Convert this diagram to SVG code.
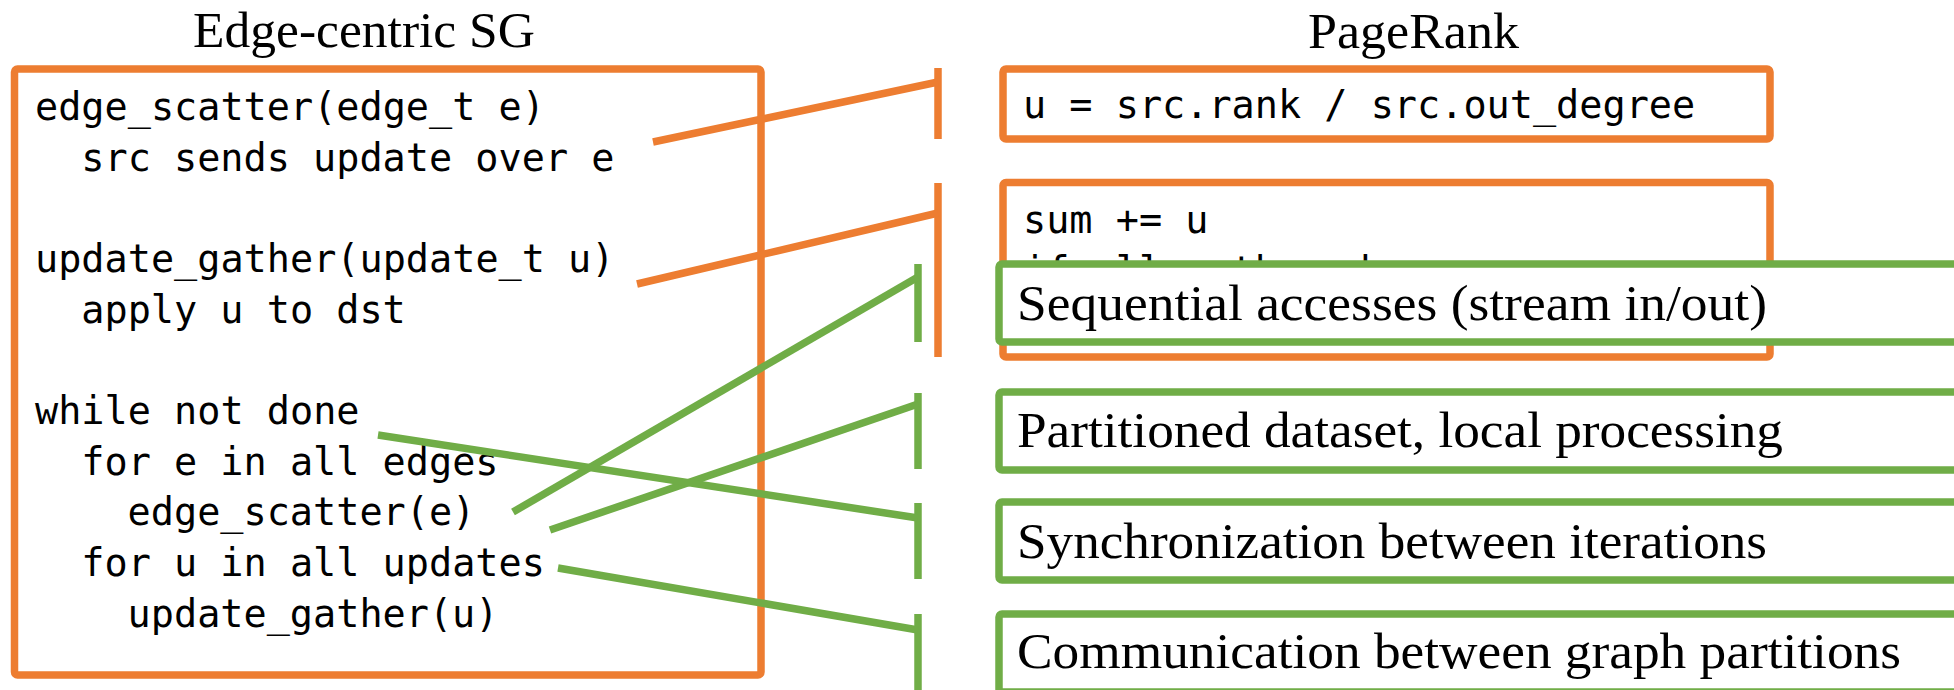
<svg xmlns="http://www.w3.org/2000/svg" width="1954" height="690" viewBox="0 0 1954 690">
<style>
.bg{fill:#ffffff}
.ob{fill:#ffffff;stroke:#ED7D31;stroke-width:7.5}
.gb{fill:#ffffff;stroke:#70AD47;stroke-width:7.5}
.oc{stroke:#ED7D31;stroke-width:7.5;fill:none}
.gc{stroke:#70AD47;stroke-width:7.5;fill:none}
.code{font-family:"DejaVu Sans Mono","Liberation Mono",monospace;font-size:38.5px;fill:#000}
.title{font-family:"Liberation Serif","Times New Roman",serif;font-size:50px;fill:#000}
.lbl{font-family:"Liberation Serif","Times New Roman",serif;font-size:50px;fill:#000}
</style>
<defs>
<clipPath id="gatherClip"><rect x="1003" y="182" width="767" height="80"/></clipPath>
</defs>
<rect class="bg" x="0" y="0" width="1954" height="690"/>
<g id="title-left"><text class="title" x="193" y="47" textLength="342" lengthAdjust="spacingAndGlyphs">Edge-centric SG</text></g>
<g id="title-right"><text class="title" x="1308" y="48" textLength="211" lengthAdjust="spacingAndGlyphs">PageRank</text></g>
<g id="left-box">
<rect class="ob" x="14.5" y="69" width="746.5" height="606" rx="3"/>
<text class="code" x="35" y="120">edge_scatter(edge_t e)</text>
<text class="code" x="81.3" y="170.7">src sends update over e</text>
<text class="code" x="35" y="272">update_gather(update_t u)</text>
<text class="code" x="81.3" y="322.7">apply u to dst</text>
<text class="code" x="35" y="424">while not done</text>
<text class="code" x="81.3" y="474.7">for e in all edges</text>
<text class="code" x="127.6" y="525.4">edge_scatter(e)</text>
<text class="code" x="81.3" y="576.1">for u in all updates</text>
<text class="code" x="127.6" y="626.8">update_gather(u)</text>
</g>
<g id="scatter-box">
<rect class="ob" x="1003" y="69" width="767" height="70" rx="3"/>
<text class="code" x="1023" y="118">u = src.rank / src.out_degree</text>
</g>
<g id="gather-box">
<rect class="ob" x="1003" y="182.5" width="767" height="174.5" rx="3"/>
<text class="code" x="1023" y="233">sum += u</text>
<text class="code" x="1023" y="284" clip-path="url(#gatherClip)">if all gathered</text>
</g>
<g id="seq-box">
<rect class="gb" x="999" y="264" width="1000" height="78" rx="3"/>
<text class="lbl" x="1017" y="320" textLength="750" lengthAdjust="spacingAndGlyphs">Sequential accesses (stream in/out)</text>
</g>
<g id="part-box">
<rect class="gb" x="999" y="392" width="1000" height="78" rx="3"/>
<text class="lbl" x="1017" y="447" textLength="766" lengthAdjust="spacingAndGlyphs">Partitioned dataset, local processing</text>
</g>
<g id="sync-box">
<rect class="gb" x="999" y="502" width="1000" height="78" rx="3"/>
<text class="lbl" x="1017" y="558" textLength="750" lengthAdjust="spacingAndGlyphs">Synchronization between iterations</text>
</g>
<g id="comm-box">
<rect class="gb" x="999" y="614" width="1000" height="78" rx="3"/>
<text class="lbl" x="1017" y="668" textLength="884" lengthAdjust="spacingAndGlyphs">Communication between graph partitions</text>
</g>
<g id="connectors">
<line class="oc" x1="938" y1="68" x2="938" y2="139"/>
<line class="oc" x1="653" y1="142" x2="938" y2="82"/>
<line class="oc" x1="938" y1="183" x2="938" y2="357"/>
<line class="oc" x1="637" y1="284" x2="938" y2="213"/>
<line class="gc" x1="918" y1="264" x2="918" y2="342"/>
<line class="gc" x1="513" y1="512" x2="918" y2="277"/>
<line class="gc" x1="918" y1="393" x2="918" y2="469"/>
<line class="gc" x1="550" y1="530" x2="918" y2="404"/>
<line class="gc" x1="918" y1="503" x2="918" y2="579"/>
<line class="gc" x1="378" y1="435" x2="918" y2="518"/>
<line class="gc" x1="918" y1="614" x2="918" y2="692"/>
<line class="gc" x1="558" y1="568" x2="918" y2="630"/>
</g>
</svg>
